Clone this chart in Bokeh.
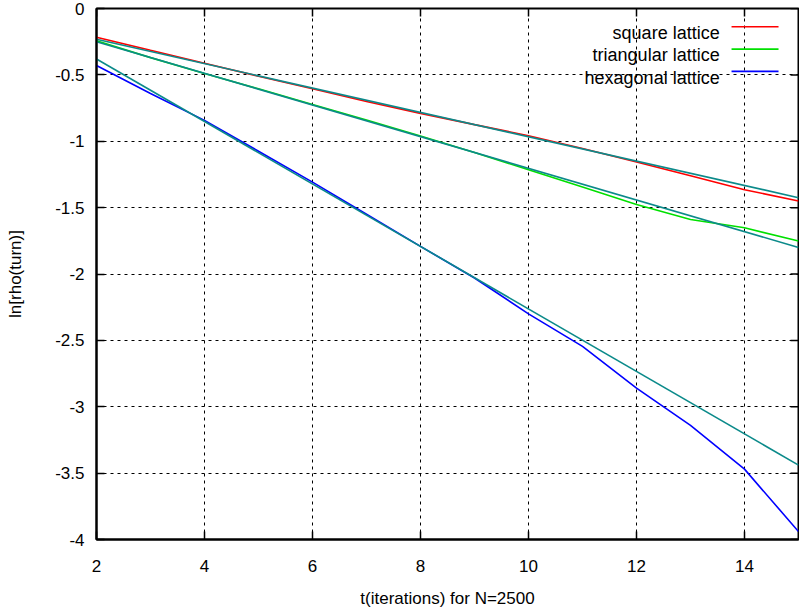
from bokeh.plotting import figure
from bokeh.models import Range1d, FixedTicker
from bokeh.core.properties import value
from bokeh.embed import file_html
from bokeh.resources import INLINE

# ln of the turning density against iteration count, N=2500
t = list(range(2, 16))
square = [-0.216, -0.315, -0.412, -0.51, -0.605, -0.70, -0.79, -0.875,
          -0.958, -1.055, -1.157, -1.26, -1.365, -1.45]
triangular = [-0.243, -0.37, -0.49, -0.605, -0.723, -0.84, -0.96, -1.085,
              -1.215, -1.345, -1.476, -1.59, -1.652, -1.752]
hexagonal = [-0.43, -0.64, -0.843, -1.075, -1.308, -1.55, -1.792, -2.03,
             -2.30, -2.545, -2.86, -3.14, -3.47, -3.94]

# straight-line fits, given by their end values
fit_t = [2, 15]
square_fit = [-0.232, -1.425]
triangular_fit = [-0.25, -1.80]
hexagonal_fit = [-0.38, -3.44]

series_names = ["square lattice", "triangular lattice", "hexagonal lattice"]
series_colors = ["#ff0000", "#00e000", "#0000ff"]
fit_color = "#0b8a8a"

x_ticks = [2, 4, 6, 8, 10, 12, 14]
y_ticks = [0, -0.5, -1, -1.5, -2, -2.5, -3, -3.5, -4]
y_tick_labels = ["0", "-0.5", "-1", "-1.5", "-2", "-2.5", "-3", "-3.5", "-4"]

FONT = "Liberation Sans"
FS = "17px"
KEY_FS = "18px"

X0, X1, Y0, Y1 = 2, 15, -4, 0

p = figure(width=799, height=613, x_range=Range1d(X0, X1), y_range=Range1d(Y0, Y1),
           output_backend="svg", toolbar_location=None,
           min_border_left=96, min_border_right=1, min_border_top=8, min_border_bottom=74,
           background_fill_color="white", border_fill_color="white")

p.outline_line_color = "black"
p.outline_line_width = 2

# grid: black dotted
for g in (p.xgrid, p.ygrid):
    g.grid_line_color = "black"
    g.grid_line_dash = "3 4"
    g.grid_line_width = 1
p.xgrid.ticker = FixedTicker(ticks=x_ticks)
p.ygrid.ticker = FixedTicker(ticks=y_ticks)

# bottom axis
xa = p.xaxis[0]
xa.ticker = FixedTicker(ticks=x_ticks)
xa.major_tick_in = 8
xa.major_tick_out = 0
xa.minor_tick_line_color = None
xa.axis_line_width = 2
xa.major_tick_line_width = 1.5
xa.major_label_standoff = 20
xa.major_label_text_font = FONT
xa.major_label_text_font_size = FS
xa.major_label_text_color = "black"
xa.axis_label = "t(iterations) for N=2500"
xa.axis_label_text_font = FONT
xa.axis_label_text_font_size = FS
xa.axis_label_text_font_style = "normal"
xa.axis_label_text_color = "black"
xa.axis_label_standoff = 14

# left axis
ya = p.yaxis[0]
ya.ticker = FixedTicker(ticks=y_ticks)
ya.major_tick_in = 8
ya.major_tick_out = 0
ya.minor_tick_line_color = None
ya.axis_line_width = 2
ya.major_tick_line_width = 1.5
ya.major_label_overrides = dict(zip(y_ticks, y_tick_labels))
ya.major_label_standoff = 12
ya.major_label_text_font = FONT
ya.major_label_text_font_size = FS
ya.major_label_text_color = "black"
ya.axis_label = "ln[rho(turn)]"
ya.axis_label_text_font = FONT
ya.axis_label_text_font_size = FS
ya.axis_label_text_font_style = "normal"
ya.axis_label_text_color = "black"
ya.axis_label_standoff = 27

# mirrored inward ticks on the top and right edges
tick_len_y = 0.06
tick_len_x = 0.148
p.segment(x0=x_ticks, x1=x_ticks, y0=[Y1] * len(x_ticks), y1=[Y1 - tick_len_y] * len(x_ticks),
          line_color="black", line_width=1.5)
p.segment(x0=[X1] * len(y_ticks), x1=[X1 - tick_len_x] * len(y_ticks), y0=y_ticks, y1=y_ticks,
          line_color="black", line_width=1.5)

# data curves
for ys, c in zip([square, triangular, hexagonal], series_colors):
    p.line(t, ys, line_color=c, line_width=1.6)

# fitted lines
for ys in [square_fit, triangular_fit, hexagonal_fit]:
    p.line(fit_t, ys, line_color=fit_color, line_width=1.6)

# key in the upper right: label, then line sample
key_text_x = 13.54
key_line_x0, key_line_x1 = 13.76, 14.63
key_top = -0.186
key_step = 0.168
key_line_shift = 0.048
key_y = [key_top - i * key_step for i in range(3)]
p.text(x=[key_text_x] * 3, y=key_y, text=series_names, text_align="right",
       text_baseline="middle", text_font=value(FONT), text_font_size=value(KEY_FS),
       text_color="black")
p.segment(x0=[key_line_x0] * 3, x1=[key_line_x1] * 3,
          y0=[k + key_line_shift for k in key_y], y1=[k + key_line_shift for k in key_y],
          line_color=series_colors, line_width=1.6)

open("out.html", "w").write(file_html(p, INLINE))
